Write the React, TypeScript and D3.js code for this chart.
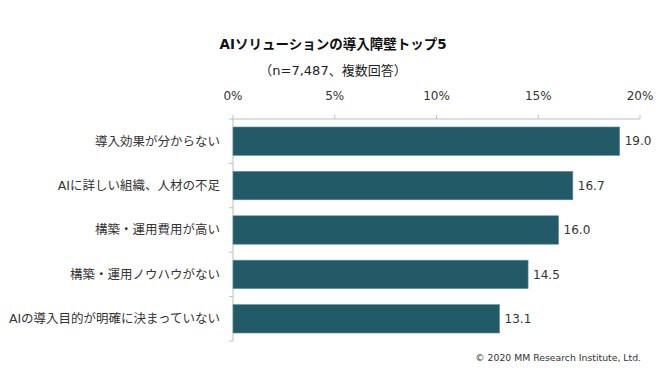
import React from "react";
import * as d3 from "d3";

const categories = [
  "導入効果が分からない",
  "AIに詳しい組織、人材の不足",
  "構築・運用費用が高い",
  "構築・運用ノウハウがない",
  "AIの導入目的が明確に決まっていない",
];
const values = [19.0, 16.7, 16.0, 14.5, 13.1];
const tickValues = [0, 5, 10, 15, 20];
const title = "AIソリューションの導入障壁トップ5";
const subtitle = "（n=7,487、複数回答）";
const credit = "© 2020 MM Research Institute, Ltd.";

const W = 665;
const H = 380;
const FONT = "'DejaVu Sans', 'Noto Sans CJK JP', sans-serif";

export default function App() {
  const x = d3.scaleLinear().domain([0, 20]).range([233, 640]);
  const y = d3.scaleBand<string>().domain(categories).range([119, 341]).paddingInner(0.36).paddingOuter(0.18);
  const bandStep = y.step();
  const boundaries = d3.range(categories.length + 1).map((i) => 119 + i * bandStep);
  return (
    <svg width={W} height={H} style={{ position: "absolute", left: 0, top: 0, background: "#fff" }} fontFamily={FONT}>
      <text x={333} y={49} textAnchor="middle" fontSize={13.5} fontWeight="bold" fill="#111">{title}</text>
      <text x={333} y={75} textAnchor="middle" fontSize={13} fill="#222">{subtitle}</text>
      {/* top axis */}
      <line x1={x(0)} x2={x(20)} y1={119} y2={119} stroke="#bfbfbf" strokeWidth={1} />
      {tickValues.map((t) => (
        <g key={t}>
          <line x1={x(t)} x2={x(t)} y1={115} y2={119} stroke="#bfbfbf" />
          <text x={x(t)} y={100} textAnchor="middle" fontSize={12} fill="#333">{`${t}%`}</text>
        </g>
      ))}
      {/* left axis */}
      <line x1={x(0)} x2={x(0)} y1={119} y2={341} stroke="#bfbfbf" />
      {boundaries.map((b, i) => (
        <line key={i} x1={x(0) - 4} x2={x(0)} y1={b} y2={b} stroke="#bfbfbf" />
      ))}
      {categories.map((c, i) => {
        const yc = (y(c) ?? 0) + y.bandwidth() / 2;
        return (
          <g key={c}>
            <rect x={x(0)} y={y(c)} width={x(values[i]) - x(0)} height={y.bandwidth()} fill="#235a68" stroke="#5f8f9b" strokeWidth={0.6} />
            <text x={220} y={yc} dy="0.35em" textAnchor="end" fontSize={12.5} fill="#333">{c}</text>
            <text x={x(values[i]) + 5} y={yc} dy="0.35em" textAnchor="start" fontSize={12} fill="#333">{values[i].toFixed(1)}</text>
          </g>
        );
      })}
      <text x={641} y={361} textAnchor="end" fontSize={9.3} fill="#333">{credit}</text>
    </svg>
  );
}
